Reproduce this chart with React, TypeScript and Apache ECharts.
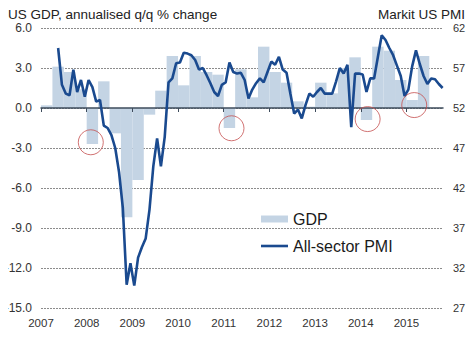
import React, { useEffect, useRef } from "react";
import * as echarts from "echarts";

// Year tick labels
const years = [2007, 2008, 2009, 2010, 2011, 2012, 2013, 2014, 2015];

// US GDP, annualised q/q % change, quarterly from 2007 Q1
const gdpStartYear = 2007;
const gdpValues = [
  0.2, 3.1, 2.7, 1.4,
  -2.7, 2.0, -1.9, -8.2,
  -5.4, -0.5, 1.3, 3.9,
  1.7, 3.9, 2.7, 2.5,
  -1.5, 2.9, 0.8, 4.6,
  2.7, 1.9, 0.5, 0.1,
  1.9, 1.1, 3.0, 3.8,
  -0.9, 4.6, 4.3, 2.1,
  0.6, 3.9,
];

// Markit all-sector PMI, monthly from May 2007
const pmiStartYear = 2007;
const pmiStartMonth = 4; // May (0-based)
const pmiValues = [
  59.5, 54.9, 53.8, 53.6, 56.8, 54.0, 55.5, 53.4,
  55.5, 54.6, 52.8, 53.0, 49.8, 49.5, 48.6, 47.0, 44.0, 39.5, 29.9, 32.6,
  29.8, 33.3, 34.6, 35.7, 39.3, 44.7, 48.2, 44.7, 48.4, 55.2, 55.7, 57.6,
  57.7, 58.9, 58.8, 58.6, 58.0, 56.8, 57.0, 56.1, 55.1, 54.0, 53.5, 54.9,
  55.2, 57.7, 56.5, 56.3, 56.4, 55.5, 53.2, 54.3, 55.1, 55.7, 55.2, 56.5,
  57.8, 57.4, 58.4, 56.8, 56.4, 53.8, 51.3, 51.8, 50.7, 52.4, 53.8, 53.4,
  54.0, 54.5, 53.8, 53.8, 53.8, 55.3, 57.0, 56.3, 57.4, 49.6, 56.3, 56.3,
  56.2, 54.0, 55.7, 55.7, 58.4, 61.1, 60.5, 59.5, 58.6, 57.3, 56.0, 53.5,
  54.3, 57.2, 59.2, 57.5, 56.0, 55.0, 55.7, 55.6, 55.0, 54.5,
];

// Red highlight circles (x in years, y on GDP axis)
const circleX = [2008.09, 2011.17, 2014.15, 2015.17];
const circleY = [-2.57, -1.52, -0.83, 0.22];

// Right axis tick values
const pmiTicks = [27, 32, 37, 42, 47, 52, 57, 62];

const FONT = "'Liberation Sans', Arial, sans-serif";
const BAR_COLOR = "#c4d4e4";
const LINE_COLOR = "#1a4a8f";

export default function App() {
  const ref = useRef<HTMLDivElement>(null);

  useEffect(() => {
    if (!ref.current) return;
    const chart = echarts.init(ref.current, undefined, { renderer: "svg" });

    const barData = gdpValues.map((v, i) => [
      gdpStartYear + i * 0.25,
      gdpStartYear + (i + 1) * 0.25,
      v,
    ]);
    const pmiData = pmiValues.map((v, i) => [
      pmiStartYear + (pmiStartMonth + i + 0.5) / 12,
      v,
    ]);
    const circleData = circleX.map((x, i) => [x, circleY[i]]);

    const option: any = {
      animation: false,
      textStyle: { fontFamily: FONT },
      title: [
        {
          text: "US GDP, annualised q/q % change",
          left: 3,
          top: 2,
          textStyle: { fontSize: 13.5, fontWeight: "normal", color: "#222", fontFamily: FONT },
        },
        {
          text: "Markit US PMI",
          right: 4,
          top: 2,
          textStyle: { fontSize: 13.5, fontWeight: "normal", color: "#222", fontFamily: FONT },
        },
      ],
      legend: {
        data: [
          { name: "GDP", icon: "rect" },
          { name: "All-sector PMI", icon: "path://M0,0H27V2.6H0Z" },
        ],
        orient: "vertical",
        left: 256,
        top: 206,
        itemWidth: 27,
        itemHeight: 7,
        itemGap: 11,
        selectedMode: false,
        textStyle: { fontSize: 16, color: "#1a1a1a", fontFamily: FONT },
      },
      grid: { left: 41, right: 31, top: 28, bottom: 40, containLabel: false },
      xAxis: [
        {
          type: "value",
          min: 2007,
          max: 2015.8,
          position: "bottom",
          axisLine: { show: false },
          axisTick: { show: false },
          splitLine: { show: false },
          axisLabel: {
            customValues: years,
            formatter: (v: number) => String(v),
            fontSize: 11.5,
            color: "#333",
            margin: 9,
            fontFamily: FONT,
          },
        },
        {
          type: "value",
          min: 2007,
          max: 2015.8,
          position: "top",
          z: 3,
          axisLine: {
            show: true,
            onZero: true,
            onZeroAxisIndex: 0,
            lineStyle: { color: "#3e4c5c", width: 1.5 },
          },
          axisTick: {
            show: true,
            inside: true,
            length: 4,
            customValues: years,
            lineStyle: { color: "#3e4c5c", width: 1 },
          },
          axisLabel: { show: false },
          splitLine: { show: false },
        },
      ],
      yAxis: [
        {
          type: "value",
          min: -15,
          max: 6,
          interval: 3,
          position: "left",
          axisLine: { show: false },
          axisTick: { show: false },
          axisLabel: {
            formatter: (v: number) => v.toFixed(1),
            fontSize: 12,
            color: "#333",
            margin: 9,
            fontFamily: FONT,
          },
          splitLine: {
            show: true,
            lineStyle: { color: "#8c8c8c", type: [2, 1], width: 1 },
          },
        },
        {
          type: "value",
          min: 27,
          max: 62,
          position: "right",
          axisLine: { show: false },
          axisTick: { show: false },
          axisLabel: {
            customValues: pmiTicks,
            fontSize: 11,
            color: "#333",
            margin: 10,
            fontFamily: FONT,
          },
          splitLine: { show: false },
        },
      ],
      series: [
        {
          name: "GDP",
          type: "custom",
          xAxisIndex: 0,
          yAxisIndex: 0,
          z: 2,
          itemStyle: { color: BAR_COLOR },
          encode: { x: [0, 1], y: 2 },
          data: barData,
          renderItem: (params: any, api: any) => {
            const p0 = api.coord([api.value(0), 0]);
            const p1 = api.coord([api.value(1), api.value(2)]);
            return {
              type: "rect",
              shape: {
                x: p0[0],
                y: Math.min(p0[1], p1[1]),
                width: p1[0] - p0[0],
                height: Math.abs(p1[1] - p0[1]),
              },
              style: { fill: BAR_COLOR },
            };
          },
        },
        {
          name: "All-sector PMI",
          type: "line",
          xAxisIndex: 0,
          yAxisIndex: 1,
          z: 5,
          showSymbol: false,
          symbol: "none",
          lineStyle: { color: LINE_COLOR, width: 2.6 },
          itemStyle: { color: LINE_COLOR },
          data: pmiData,
        },
        {
          name: "highlights",
          type: "scatter",
          xAxisIndex: 0,
          yAxisIndex: 0,
          z: 6,
          silent: true,
          symbol: "circle",
          symbolSize: 25,
          itemStyle: { color: "rgba(0,0,0,0)", borderColor: "#c55050", borderWidth: 1 },
          data: circleData,
        },
      ],
    };

    chart.setOption(option);
    return () => chart.dispose();
  }, []);

  return <div ref={ref} style={{ width: 474, height: 348, margin: -8 }} />;
}
